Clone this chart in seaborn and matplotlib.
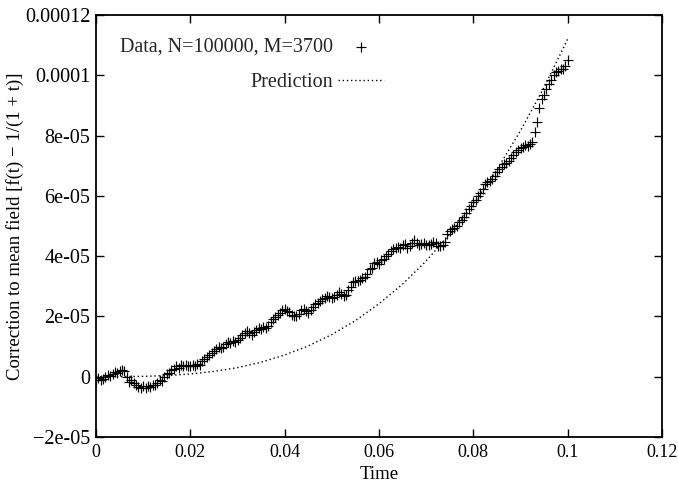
import numpy as np
import pandas as pd
import seaborn as sns
import matplotlib
matplotlib.use("Agg")
import matplotlib.pyplot as plt

# Data points, time step 0.0005, values in units of 1e-5
time_step = 0.0005
data_1e5 = [
    -0.10, -0.05, -0.12, -0.08, -0.02, 0.05, 0.02, 0.10, 0.14, 0.12,
    0.18, 0.22, 0.20, 0.00, -0.18, -0.12, -0.22, -0.28, -0.33, -0.38,
    -0.32, -0.36, -0.30, -0.34, -0.26, -0.28, -0.20, -0.10, -0.14, -0.02,
    0.08, 0.12, 0.22, 0.26, 0.34, 0.30, 0.38, 0.35, 0.40, 0.36,
    0.34, 0.38, 0.36, 0.42, 0.40, 0.52, 0.60, 0.66, 0.72, 0.80,
    0.86, 0.92, 0.98, 0.94, 1.00, 1.10, 1.16, 1.12, 1.20, 1.16,
    1.22, 1.30, 1.38, 1.44, 1.50, 1.44, 1.38, 1.48, 1.56, 1.60,
    1.58, 1.64, 1.60, 1.68, 1.80, 1.92, 1.98, 2.06, 2.10, 2.20,
    2.24, 2.18, 2.14, 2.06, 2.02, 2.00, 2.08, 2.20, 2.26, 2.18,
    2.12, 2.20, 2.32, 2.40, 2.46, 2.52, 2.58, 2.62, 2.68, 2.66,
    2.60, 2.64, 2.72, 2.82, 2.76, 2.68, 2.72, 2.88, 2.96, 3.14,
    3.18, 3.16, 3.20, 3.26, 3.30, 3.42, 3.56, 3.62, 3.76, 3.82,
    3.74, 3.86, 3.92, 4.02, 4.08, 4.16, 4.22, 4.26, 4.30, 4.28,
    4.36, 4.40, 4.28, 4.34, 4.44, 4.52, 4.42, 4.36, 4.40, 4.42,
    4.38, 4.36, 4.40, 4.46, 4.42, 4.34, 4.32, 4.38, 4.46, 4.72,
    4.84, 4.90, 4.94, 5.00, 5.12, 5.20, 5.30, 5.42, 5.56, 5.66,
    5.78, 5.86, 5.98, 6.08, 6.22, 6.38, 6.46, 6.50, 6.56, 6.66,
    6.78, 6.88, 6.96, 7.04, 7.10, 7.16, 7.26, 7.36, 7.44, 7.52,
    7.58, 7.62, 7.70, 7.66, 7.72, 7.80, 8.12, 8.46, 8.92, 9.20,
    9.36, 9.56, 9.72, 9.84, 10.00, 10.10, 10.14, 10.20, 10.22, 10.32,
    10.50,
]

# Prediction curve, every 0.005, units of 1e-5
pred_time = [0.0, 0.005, 0.01, 0.015, 0.02, 0.025, 0.03, 0.035, 0.04, 0.045,
             0.05, 0.055, 0.06, 0.065, 0.07, 0.075, 0.08, 0.085, 0.09, 0.095, 0.1]
pred_1e5 = [0.0, 0.0014, 0.011, 0.038, 0.09, 0.175, 0.30, 0.48, 0.72, 1.02,
            1.40, 1.86, 2.42, 3.07, 3.84, 4.73, 5.73, 6.87, 8.16, 9.60, 11.2]

x_ticks = [0, 0.02, 0.04, 0.06, 0.08, 0.1, 0.12]
x_labels = ["0", "0.02", "0.04", "0.06", "0.08", "0.1", "0.12"]
y_ticks = [-2e-5, 0, 2e-5, 4e-5, 6e-5, 8e-5, 1e-4, 1.2e-4]
y_labels = ["\u22122e-05", "0", "2e-05", "4e-05", "6e-05", "8e-05", "0.0001", "0.00012"]

data_df = pd.DataFrame({
    "Time": np.arange(len(data_1e5)) * time_step,
    "Value": np.array(data_1e5) * 1e-5,
})
pred_df = pd.DataFrame({
    "Time": pred_time,
    "Value": np.array(pred_1e5) * 1e-5,
})

sns.set_theme(style="ticks")
plt.rcParams["font.family"] = ["Liberation Serif", "DejaVu Serif"]

fs = 14.5
fig = plt.figure(figsize=(6.78, 4.91), dpi=100)
ax = fig.add_axes([0.1416, 0.110, 0.8348, 0.8595])

sns.scatterplot(data=data_df, x="Time", y="Value", marker="+", s=42,
                color="black", linewidth=0.85, label="Data, N=100000, M=3700", ax=ax)
sns.lineplot(data=pred_df, x="Time", y="Value", color="black", linestyle=(0, (1, 2)),
             linewidth=1.0, estimator=None, label="Prediction", ax=ax)

ax.set_xlim(0, 0.12)
ax.set_ylim(-2e-5, 1.2e-4)
ax.set_xticks(x_ticks)
ax.set_xticklabels(x_labels)
ax.set_yticks(y_ticks)
ax.set_yticklabels(y_labels)
ax.tick_params(direction="in", length=6, width=1, top=True, right=True,
               labelsize=fs, colors="black", pad=4)
ax.tick_params(axis="x", labelsize=13, pad=5)
for side in ax.spines.values():
    side.set_visible(True)
    side.set_linewidth(1.3)
    side.set_color("black")

ax.set_xlabel("Time", fontsize=13.5, color="black", labelpad=4)
ax.set_ylabel("Correction to mean field [f(t) \u2212 1/(1 + t)]",
              fontsize=13.5, color="black", labelpad=1)

leg = ax.legend(loc="upper left", bbox_to_anchor=(0.042, 0.946), frameon=False,
                markerfirst=False, handlelength=2.3, handletextpad=0.25,
                labelspacing=0.8, borderpad=0, borderaxespad=0, fontsize=fs)

fig.savefig("out.png", dpi=100)
